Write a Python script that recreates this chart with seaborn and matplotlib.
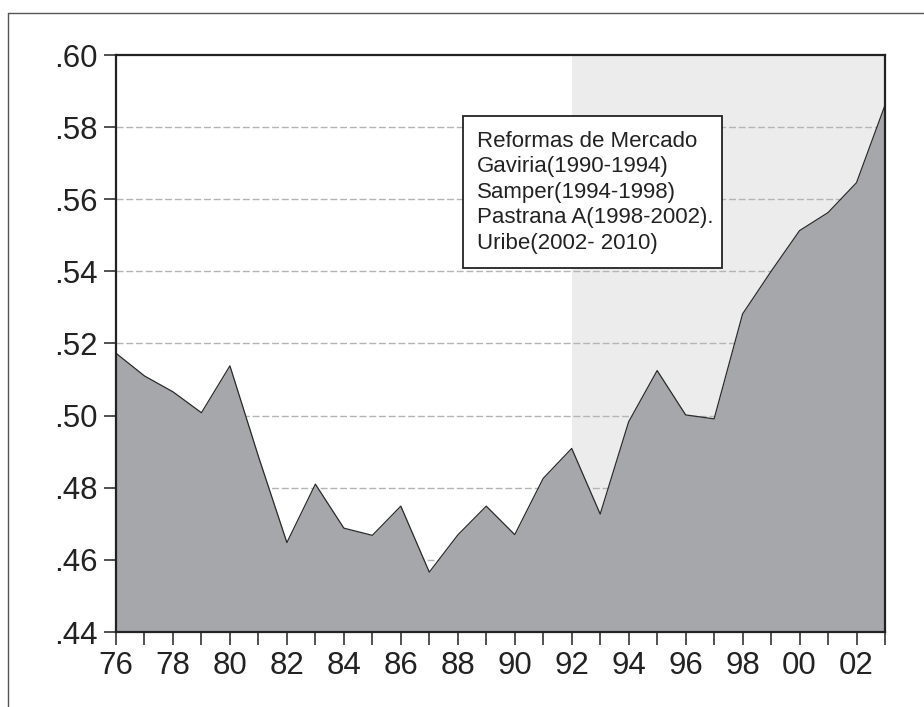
import matplotlib
matplotlib.use("Agg")
import matplotlib.pyplot as plt
import seaborn as sns
import pandas as pd
from matplotlib.lines import Line2D
from matplotlib.patches import Rectangle

years = list(range(1976, 2004))
values = [0.5173, 0.5110, 0.5066, 0.5008, 0.5138, 0.4887, 0.4648, 0.4810,
          0.4688, 0.4668, 0.4749, 0.4566, 0.4669, 0.4749, 0.4670, 0.4826,
          0.4909, 0.4727, 0.4983, 0.5125, 0.5002, 0.4991, 0.5282, 0.5400,
          0.5513, 0.5563, 0.5646, 0.5861]
yticks = [0.44, 0.46, 0.48, 0.50, 0.52, 0.54, 0.56, 0.58, 0.60]
ytick_labels = [".44", ".46", ".48", ".50", ".52", ".54", ".56", ".58", ".60"]
xtick_years = list(range(1976, 2004, 2))
xtick_labels = [f"{y % 100:02d}" for y in xtick_years]
shade_start, shade_end = 1992, 2003
legend_lines = ["Reformas de Mercado", "Gaviria(1990-1994)", "Samper(1994-1998)",
                "Pastrana A(1998-2002).", "Uribe(2002- 2010)"]

df = pd.DataFrame({"year": years, "value": values})

sns.set_theme(style="white")
plt.rcParams["font.family"] = ["Liberation Sans", "DejaVu Sans"]

W, H = 924, 707
fig = plt.figure(figsize=(W / 100, H / 100), dpi=100)
ax = fig.add_axes([116 / W, 1 - 632 / H, (885 - 116) / W, (632 - 55) / H])

ax.axvspan(shade_start, shade_end, color="#ececec", zorder=0, lw=0)
for yv in yticks[1:-1]:
    ax.axhline(yv, color="#b5b5b5", lw=1.0, ls=(0, (5, 2)), zorder=1)
ax.fill_between(df["year"], df["value"], 0.44, color="#a6a7ab", zorder=2, lw=0)
sns.lineplot(data=df, x="year", y="value", ax=ax, color="#2a2a2a", lw=0.9, zorder=3)

ax.set_xlim(1976, 2003)
ax.set_ylim(0.44, 0.60)
ax.set_xticks(years, minor=True)
ax.set_xticks(xtick_years)
ax.set_xticklabels(xtick_labels)
ax.set_yticks(yticks)
ax.set_yticklabels(ytick_labels)
ax.set_xlabel("")
ax.set_ylabel("")
ax.tick_params(axis="both", which="both", direction="out", colors="#222222",
               labelsize=22.5, labelcolor="#222222")
ax.tick_params(axis="y", length=8.5, width=1.1, pad=4.5, left=True)
ax.tick_params(axis="x", which="both", length=9.5, width=1.1, pad=4, bottom=True)
for s in ax.spines.values():
    s.set_visible(True)
    s.set_color("#222222")
    s.set_linewidth(1.6)
    s.set_zorder(5)

# outer frame (left and top edges visible)
fig.add_artist(Line2D([8 / W, 8 / W], [0, 1 - 13 / H], transform=fig.transFigure,
                      color="#555555", lw=1.0))
fig.add_artist(Line2D([8 / W, 1], [1 - 13 / H, 1 - 13 / H], transform=fig.transFigure,
                      color="#555555", lw=1.0))

# annotation box
fig.add_artist(Rectangle((463 / W, 1 - 268 / H), (722 - 463) / W, (268 - 116) / H,
                         transform=fig.transFigure, facecolor="white",
                         edgecolor="#222222", lw=1.3, zorder=6))
baselines = [146.7, 172.3, 197.9, 223.5, 249.1]
for t, yp in zip(legend_lines, baselines):
    fig.text(477 / W, 1 - yp / H, t, ha="left", va="baseline", fontsize=16,
             color="#222222", zorder=7)

fig.savefig("out.png", dpi=100)
